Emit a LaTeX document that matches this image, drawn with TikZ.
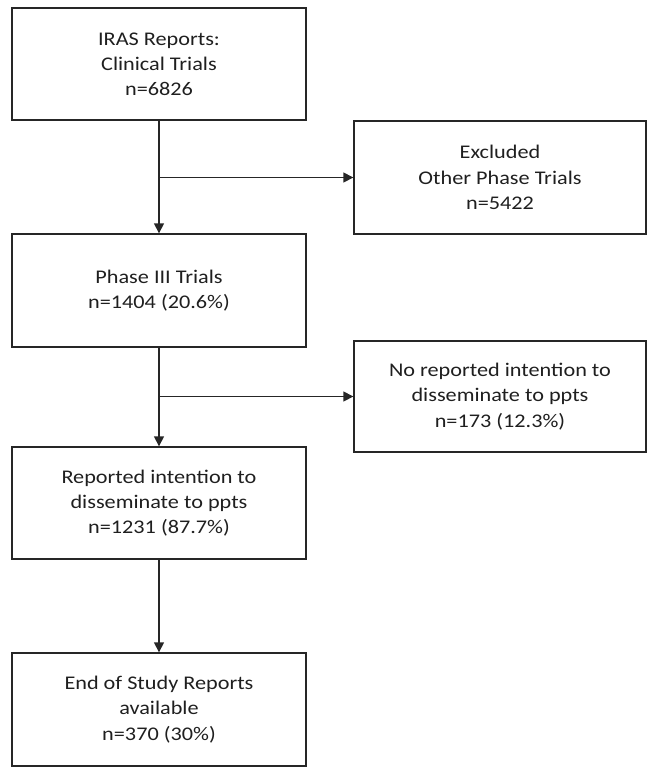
\documentclass[tikz,border=0pt]{standalone}
\usepackage{fontspec}
\setmainfont{Carlito}[FakeStretch=1.15]
\usetikzlibrary{arrows.meta}
\begin{document}
\begin{tikzpicture}[x=0.75pt,y=-0.75pt,
  box/.style={draw=black!85, line width=1pt, rectangle, align=center,
    minimum width=220.5pt, minimum height=84pt, inner sep=0pt,
    font=\fontsize{14.5pt}{18.9pt}\selectfont, text=black!88},
  arr/.style={draw=black!85, line width=1pt, -{Triangle[length=7.5pt,width=7.5pt]}},
  ln/.style={draw=black!85, line width=1pt}]
\useasboundingbox (0,0) rectangle (651,776);
\node[box] (n1) at (159,64) {IRAS Reports:\\Clinical Trials\\n=6826};
\node[box, minimum width=219pt, minimum height=84.75pt] (n2) at (500,177.5) {Excluded\\Other Phase Trials\\n=5422};
\node[box, minimum height=84.75pt] (n3) at (159,290.5) {Phase III Trials\\n=1404 (20.6\%)};
\node[box, minimum width=219pt, minimum height=83.25pt] (n4) at (500,396.5) {No reported intention to\\disseminate to ppts\\n=173 (12.3\%)};
\node[box] (n5) at (159,503) {Reported intention to\\disseminate to ppts\\n=1231 (87.7\%)};
\node[box, minimum height=84.75pt] (n6) at (159,709.5) {End of Study Reports\\available\\n=370 (30\%)};
\draw[arr] (n1.south) -- (n3.north);
\coordinate (j1) at (n1.south |- n2.west);
\draw[arr] (j1) -- (n2.west);
\draw[arr] (n3.south) -- (n5.north);
\coordinate (j2) at (n3.south |- n4.west);
\draw[arr] (j2) -- (n4.west);
\draw[arr] (n5.south) -- (n6.north);
\end{tikzpicture}
\end{document}
